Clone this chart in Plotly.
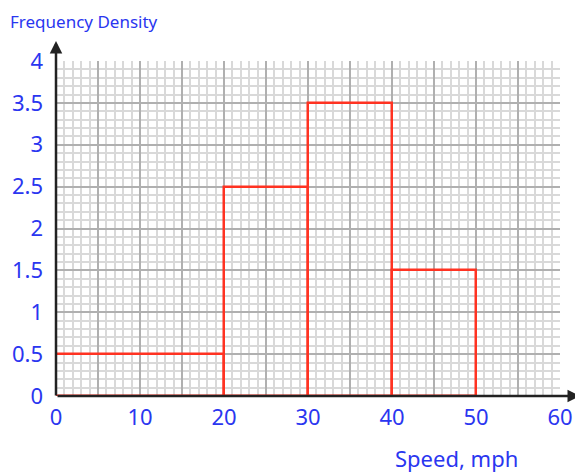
import plotly.graph_objects as go

# Data
class_left = [0, 20, 30, 40]
class_width = [20, 10, 10, 10]
freq_density = [0.5, 2.5, 3.5, 1.5]
x_tick_vals = [0, 5, 10, 15, 20, 25, 30, 35, 40, 45, 50, 55, 60]
x_tick_text = ["0", "", "10", "", "20", "", "30", "", "40", "", "50", "", "60"]
y_tick_vals = [0, 0.5, 1, 1.5, 2, 2.5, 3, 3.5, 4]
y_tick_text = ["0", "0.5", "1", "1.5", "2", "2.5", "3", "3.5", "4"]

BLUE = "#2a36f0"
FONT = "Noto Sans"

centers = [l + w / 2 for l, w in zip(class_left, class_width)]

fig = go.Figure()
fig.add_trace(go.Bar(
    x=centers, y=freq_density, width=class_width,
    marker=dict(color="rgba(0,0,0,0)", line=dict(color="#ff3322", width=2.5)),
    hoverinfo="skip",
))

fig.update_layout(
    width=575, height=465,
    margin=dict(l=48, r=23, t=53, b=77),
    paper_bgcolor="white", plot_bgcolor="white",
    showlegend=False,
    bargap=0,
    xaxis=dict(
        range=[0, 60], tickvals=x_tick_vals, ticktext=x_tick_text,
        showgrid=True, gridcolor="#b0b0b0", gridwidth=2,
        minor=dict(dtick=1, showgrid=True, gridcolor="#d9d9d9", gridwidth=1.5),
        zeroline=False, showline=False, ticks="",
        tickfont=dict(family=FONT, size=22, color=BLUE),
        ticklabelstandoff=6, fixedrange=True, automargin=False,
    ),
    yaxis=dict(
        range=[0, 4], tickvals=y_tick_vals, ticktext=y_tick_text,
        showgrid=True, gridcolor="#b0b0b0", gridwidth=2,
        minor=dict(dtick=0.1, showgrid=True, gridcolor="#d9d9d9", gridwidth=1.5),
        zeroline=False, showline=False, ticks="",
        tickfont=dict(family=FONT, size=22, color=BLUE),
        ticklabelstandoff=12, fixedrange=True, automargin=False,
    ),
    annotations=[
        dict(text="Frequency Density", xref="paper", yref="paper",
             x=-48/504, y=1 + 40/335, xanchor="left", yanchor="middle",
             showarrow=False, font=dict(family=FONT, size=17, color=BLUE)),
        dict(text="Speed, mph", xref="paper", yref="paper",
             x=1 - 40/504, y=-62/335, xanchor="right", yanchor="middle",
             showarrow=False, font=dict(family=FONT, size=22, color=BLUE)),
        # y-axis with arrow
        dict(xref="paper", yref="paper", axref="pixel", ayref="pixel",
             x=0, y=1 + 20/335, ax=0, ay=356, text="", showarrow=True,
             arrowhead=2, arrowsize=1, arrowwidth=2.5, arrowcolor="#222222"),
        # x-axis with arrow
        dict(xref="paper", yref="paper", axref="pixel", ayref="pixel",
             x=1 + 20/504, y=0, ax=-524, ay=0, text="", showarrow=True,
             arrowhead=2, arrowsize=1, arrowwidth=2.5, arrowcolor="#222222"),
    ],
)

fig.write_html("out.html")
